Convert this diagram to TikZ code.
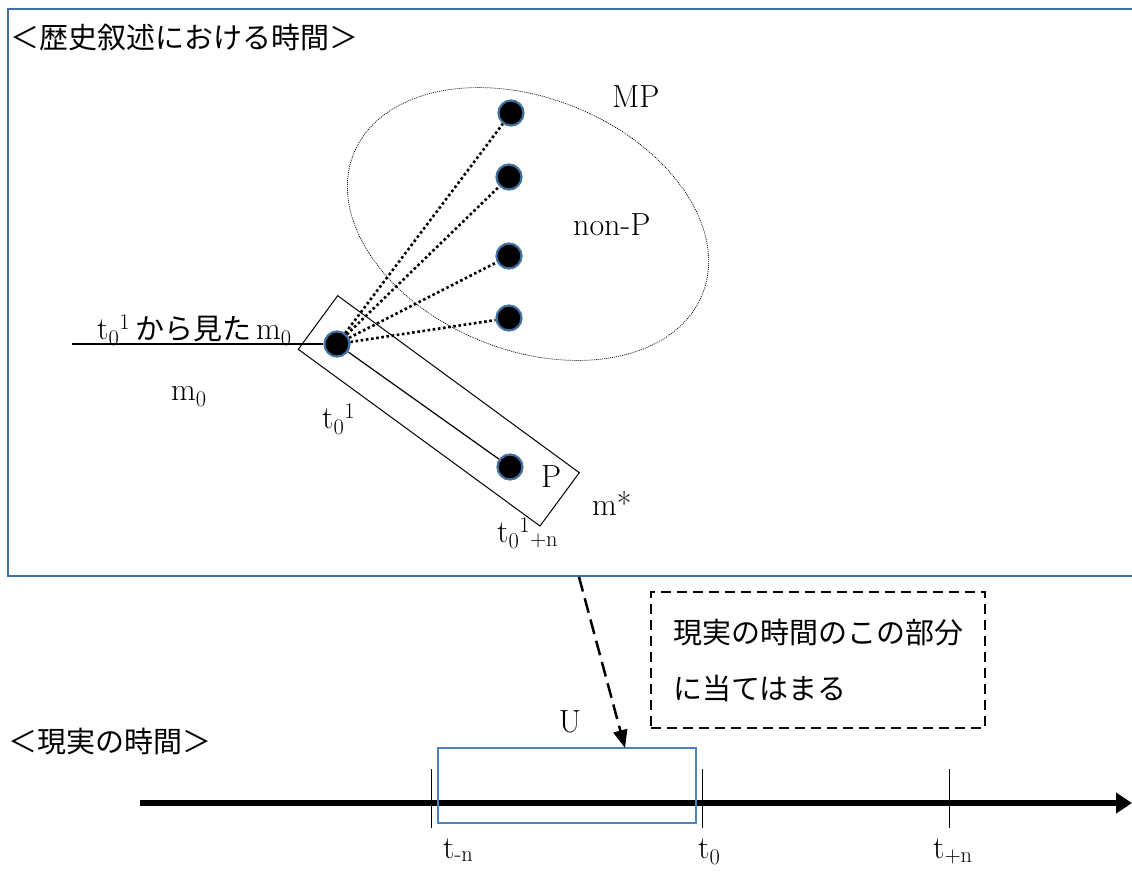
\documentclass[tikz,border=0pt]{standalone}
\usepackage{fontspec}
\newfontfamily\jp{Noto Sans CJK JP}
\usetikzlibrary{arrows.meta}
\definecolor{wblue}{RGB}{65,113,160}
\definecolor{ublue}{RGB}{79,129,189}
\begin{document}
\begin{tikzpicture}[x=1pt,y=-1pt,
  lbl/.style={inner sep=0pt, font=\fontsize{32}{38}\selectfont},
  jlbl/.style={inner sep=0pt, font=\fontsize{29}{35}\selectfont\jp},
  dot/.style={circle, fill=black, draw=wblue, line width=2.2pt, minimum size=25pt, inner sep=0pt},
  dotline/.style={line width=2.6pt, dash pattern=on 2.6pt off 2.6pt},
  thinline/.style={line width=1pt},
  ]
\useasboundingbox (0,0) rectangle (1132,871);
% frame of the upper panel
\draw[wblue, line width=2.8pt] (1140,9) -- (8,9) -- (8,576) -- (1140,576);
\node[jlbl, anchor=west] (title) at (10,37) {＜歴史叙述における時間＞};
% ellipse
\draw[line width=0.7pt, dash pattern=on 1pt off 1pt, rotate around={-22:(528,224)}] (528,224) ellipse [x radius=188, y radius=126];
% rotated box
\draw[thinline] (337.7,295.7) -- (579.3,472.7) -- (540,526) -- (298.3,349.3) -- cycle;
% dots
\node[dot] (d1) at (511,113) {};
\node[dot] (d2) at (509,177) {};
\node[dot] (d3) at (509,256) {};
\node[dot] (d4) at (509,318) {};
\node[dot] (c) at (337,344) {};
\node[dot] (p) at (510,467) {};
\draw[dotline] (c) -- (d1);
\draw[dotline] (c) -- (d2);
\draw[dotline] (c) -- (d3);
\draw[dotline] (c) -- (d4);
\draw[line width=1.2pt] (c) -- (p);
\coordinate (hl) at (72,344);
\draw[line width=1.2pt] (hl) -- (c);
% labels
\node[lbl, anchor=base west] (lab1) at (97,339) {t\textsubscript{0}\textsuperscript{1}\hspace{5pt}{\fontsize{29}{35}\selectfont\jp から見た}\hspace{5pt}m\textsubscript{0}};
\node[lbl, anchor=base west] (m0) at (171,400) {m\textsubscript{0}};
\node[lbl, anchor=base west] (t01) at (322,428) {t\textsubscript{0}\textsuperscript{1}};
\node[lbl, anchor=base west] (P) at (541,487) {P};
\node[lbl, anchor=base west] (mstar) at (592,515) {m*};
\node[lbl, anchor=base west] (t01n) at (497,542) {t\textsubscript{0}\textsuperscript{1}\textsubscript{+n}};
\node[lbl, anchor=base west] (MP) at (612,107) {MP};
\node[lbl, anchor=base west] (nonP) at (573,235) {non-P};
% lower panel
\node[jlbl, anchor=west] (rt) at (8,742) {＜現実の時間＞};
\coordinate (ax0) at (140,803);
\coordinate (ax1) at (1132,803);
\draw[line width=6pt, -{Triangle[length=16pt,width=20pt]}] (ax0) -- (ax1);
\draw[thinline] (431,769) -- (431,828);
\draw[thinline] (702,769) -- (702,828);
\draw[thinline] (949,769) -- (949,828);
\node[draw=ublue, line width=2.2pt, minimum width=258pt, minimum height=74.5pt, inner sep=0pt] (U) at (567,785.5) {};
\node[lbl, anchor=base] (Ul) at (570,732) {U};
\node[lbl, anchor=base west] (tmn) at (443,858) {t\textsubscript{-n}};
\node[lbl, anchor=base west] (t0) at (698,858) {t\textsubscript{0}};
\node[lbl, anchor=base west] (tpn) at (933,858) {t\textsubscript{+n}};
% note box
\node[draw, dash pattern=on 10pt off 6pt, line width=1.6pt, minimum width=334pt, minimum height=136pt, inner sep=0pt, align=left, font=\fontsize{29}{56}\selectfont\jp] (note) at (818,660) {現実の時間のこの部分\\に当てはまる};
% dashed arrow
\coordinate (da0) at (579,577);
\coordinate (da1) at (625,748);
\draw[line width=2.5pt, dash pattern=on 15pt off 7pt, -{Triangle[length=18pt,width=14pt]}] (da0) -- (da1);
\end{tikzpicture}
\end{document}
